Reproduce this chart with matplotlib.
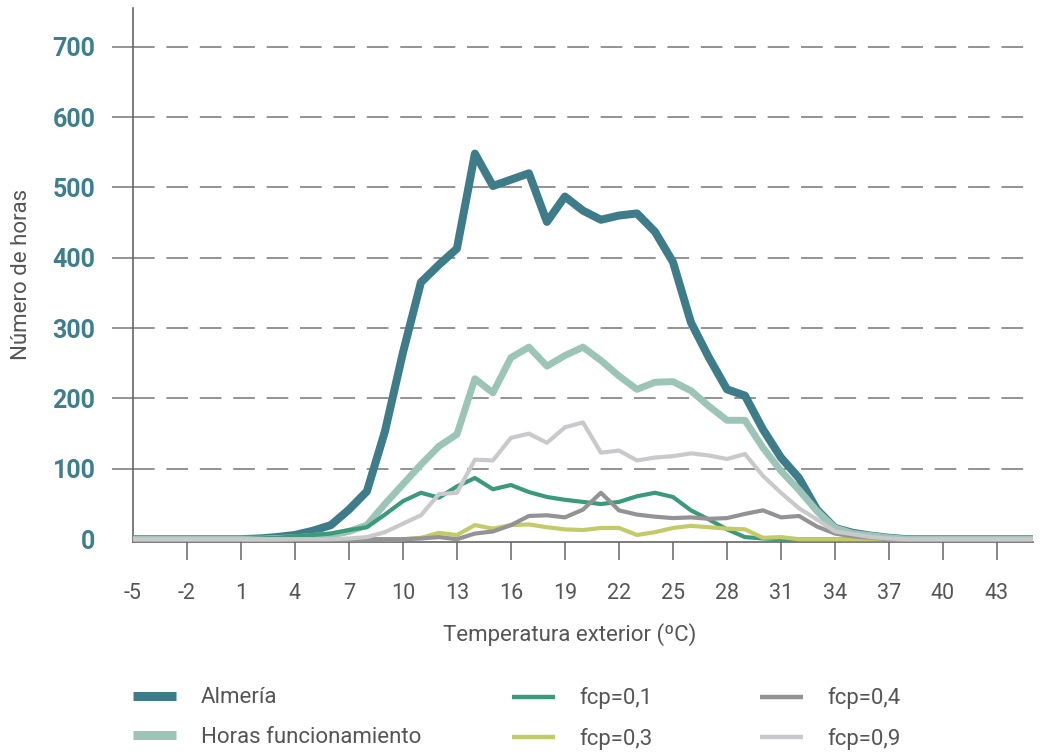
import matplotlib
matplotlib.use("Agg")
import matplotlib.pyplot as plt
from matplotlib.lines import Line2D
import numpy as np

# Datos (horas por temperatura exterior, -5 a 45 ºC)
temperatura = np.arange(-5, 46)

almeria = [0, 0, 0, 0, 0, 0, 0, 1, 3, 6, 12, 20, 42, 68, 153, 265, 365, 390, 413, 548,
           502, 511, 520, 451, 487, 467, 454, 460, 463, 437, 394, 308, 258, 213, 204, 156,
           116, 87, 42, 16, 9, 5, 2, 0, 0, 0, 0, 0, 0, 0, 0]
horas_func = [0, 0, 0, 0, 0, 0, 0, 0, 1, 2, 4, 6, 11, 20, 50, 78, 106, 132, 149, 228,
              208, 258, 273, 246, 261, 273, 254, 232, 213, 223, 224, 211, 189, 169, 169, 130,
              97, 70, 40, 16, 8, 5, 2, 0, 0, 0, 0, 0, 0, 0, 0]
fcp_01 = [0, 0, 0, 0, 0, 0, 0, 1, 2, 4, 6, 8, 13, 17, 35, 54, 66, 59, 75, 87,
          71, 77, 67, 60, 56, 53, 50, 53, 61, 66, 60, 41, 28, 14, 3, 1,
          0, 0, 0, 0, 0, 0, 0, 0, 0, 0, 0, 0, 0, 0, 0]
fcp_03 = [0, 0, 0, 0, 0, 0, 0, 0, 0, 0, 0, 0, 0, 0, 0, 0, 2, 9, 6, 20,
          15, 20, 21, 17, 14, 13, 16, 16, 6, 10, 16, 19, 17, 15, 14, 2,
          3, 0, 0, 0, 0, 0, 0, 0, 0, 0, 0, 0, 0, 0, 0]
fcp_04 = [0, 0, 0, 0, 0, 0, 0, 0, 0, 0, 0, 0, 0, 0, 0, 0, 1, 3, 0, 8,
          11, 20, 33, 34, 31, 42, 66, 41, 35, 32, 30, 31, 29, 30, 36, 41,
          31, 33, 18, 8, 4, 2, 0, 0, 0, 0, 0, 0, 0, 0, 0]
fcp_09 = [0, 0, 0, 0, 0, 0, 0, 0, 0, 0, 0, 0, 1, 3, 10, 22, 34, 64, 66, 113,
          112, 144, 150, 137, 159, 166, 123, 126, 112, 116, 118, 122, 119, 114, 121, 90,
          66, 44, 28, 11, 7, 3, 1, 0, 0, 0, 0, 0, 0, 0, 0]

x_ticks = list(range(-5, 44, 3))
y_ticks = [0, 100, 200, 300, 400, 500, 600, 700]

c_almeria = "#3e7c89"
c_horas = "#9cc5b8"
c_01 = "#3b9a7b"
c_03 = "#c3cb69"
c_04 = "#939396"
c_09 = "#c9c9cb"
c_texto = "#555555"
c_eje_y = "#3e7f8b"

plt.rcParams["font.family"] = ["Roboto", "DejaVu Sans"]
plt.rcParams["axes.unicode_minus"] = False

fig = plt.figure(figsize=(10.46, 7.52), dpi=100)
ax = fig.add_axes([0.127, 0.2797, 0.8606, 0.7097])

ax.plot(temperatura, almeria, color=c_almeria, lw=5.8, solid_joinstyle="round", zorder=3)
ax.plot(temperatura, horas_func, color=c_horas, lw=5.0, solid_joinstyle="round", zorder=4)
ax.plot(temperatura, fcp_01, color=c_01, lw=3.0, zorder=5)
ax.plot(temperatura, fcp_03, color=c_03, lw=3.0, zorder=5)
ax.plot(temperatura, fcp_04, color=c_04, lw=3.0, zorder=6)
ax.plot(temperatura, fcp_09, color=c_09, lw=3.0, zorder=6)

ax.set_xlim(-5, 45)
ax.set_ylim(-3.5, 755)

ax.set_xticks(x_ticks)
ax.set_yticks(y_ticks)
ax.tick_params(axis="x", direction="out", length=13, width=1.1, color="#666666",
               pad=17, labelsize=15.5, labelcolor=c_texto)
ax.tick_params(axis="y", direction="out", length=15, width=1.1, color="#777777",
               pad=12, labelsize=18, labelcolor=c_eje_y)
for lab in ax.get_yticklabels():
    lab.set_fontweight("bold")
ax.xaxis.get_major_ticks()[0].tick1line.set_visible(False)
ax.yaxis.get_major_ticks()[0].tick1line.set_visible(False)

ax.yaxis.grid(True, linestyle=(0, (12, 6.5)), color="#8a8a8a", lw=1.3)
ax.set_axisbelow(True)
# quitar la línea de rejilla en 0
ax.yaxis.get_gridlines()[0].set_visible(False)

for s in ["top", "right"]:
    ax.spines[s].set_visible(False)
for s in ["left", "bottom"]:
    ax.spines[s].set_color("#666666")
    ax.spines[s].set_linewidth(1.2)

ax.set_xlabel("Temperatura exterior (ºC)", fontsize=16, color=c_texto)
ax.xaxis.set_label_coords(0.485, -0.152)
ax.set_ylabel("Número de horas", fontsize=16, color=c_texto)
ax.yaxis.set_label_coords(-0.112, 0.5)

# Leyenda en tres columnas separadas
columnas = [
    (0.127, [("Almería", c_almeria, 6.5), ("Horas funcionamiento", c_horas, 6.5)]),
    (0.4895, [("fcp=0,1", c_01, 3.2), ("fcp=0,3", c_03, 3.2)]),
    (0.7266, [("fcp=0,4", c_04, 3.2), ("fcp=0,9", c_09, 3.2)]),
]
for xpos, entradas in columnas:
    handles = [Line2D([], [], color=c, lw=w, solid_capstyle="butt") for _, c, w in entradas]
    etiquetas = [e[0] for e in entradas]
    fig.legend(handles, etiquetas, loc="upper left", bbox_to_anchor=(xpos, 0.086),
               frameon=False, fontsize=16, labelcolor=c_texto, handlelength=1.95,
               handletextpad=1.1, labelspacing=0.85, borderpad=0, borderaxespad=0)

fig.savefig("out.png", dpi=100)
